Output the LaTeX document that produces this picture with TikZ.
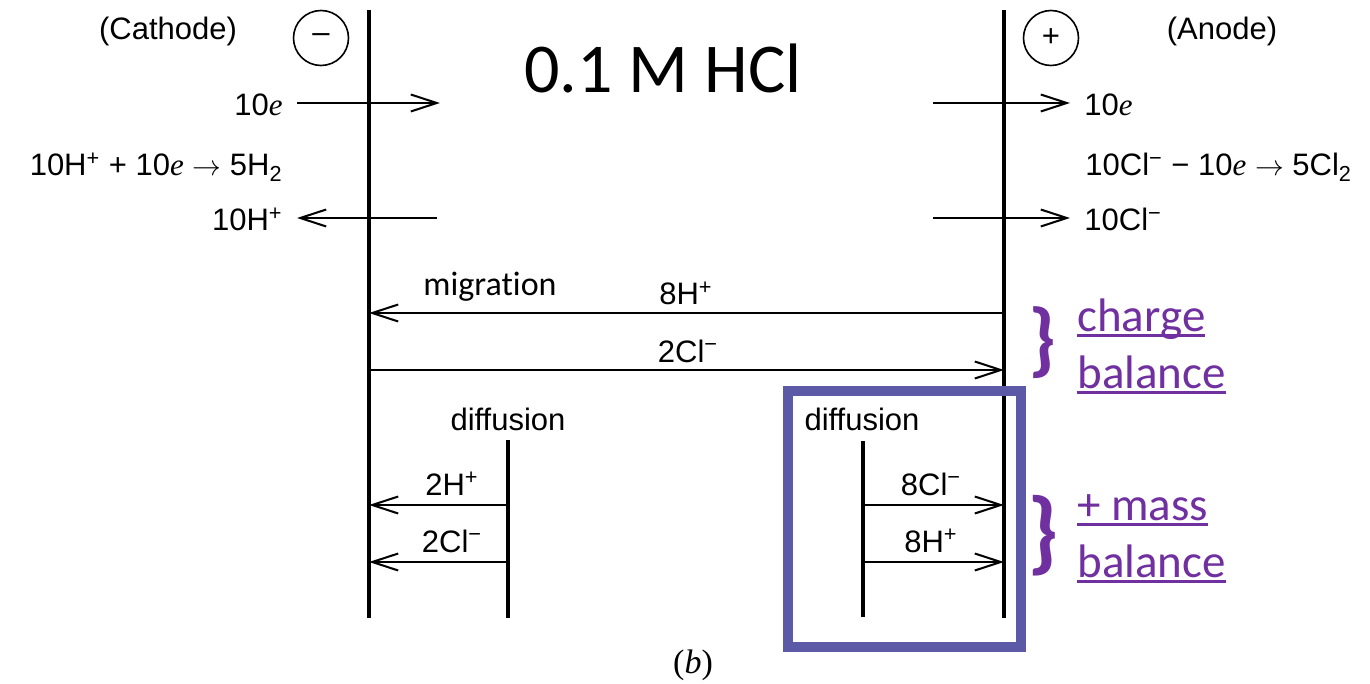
\documentclass[tikz,border=0pt]{standalone}
\usepackage{fontspec}
\setmainfont{Liberation Sans}
\newfontfamily\calibri[Ligatures=NoCommon]{Carlito}
\newfontfamily\timesfont{Liberation Serif}
\usetikzlibrary{arrows.meta}
\definecolor{CellBox}{HTML}{5C59A6}
\definecolor{CellPurple}{HTML}{7030A0}
\newcommand{\ulword}[1]{\setbox0\hbox{#1}\rlap{\rule[-0.13em]{\wd0}{0.065em}}\box0}
\newcommand{\elec}{{\timesfont\itshape e}}

\begin{document}
\begin{tikzpicture}[x=0.5pt,y=-0.5pt,
    electrode/.style={line width=2pt},
    wall/.style={line width=1.7pt},
    flow/.style={line width=1pt,-{Straight Barb[length=13pt,width=8.5pt]}},
    ion/.style={font=\fontsize{15.5}{18}\selectfont,inner sep=0pt},
    ionL/.style={ion,anchor=base east,inner xsep=7pt},
    ionR/.style={ion,anchor=base west,inner xsep=7pt},
    sign/.style={circle,draw,line width=0.8pt,minimum size=27.5pt,inner sep=0pt,
      font=\fontsize{15.5}{18}\selectfont},
    note/.style={font=\calibri\fontsize{17}{20}\selectfont,inner sep=0pt,anchor=base},
    balance/.style={font=\calibri\fontsize{23.5}{28.5}\selectfont,text=CellPurple,
      inner sep=0pt,anchor=base west,align=left},
    brace/.style={font=\calibri\bfseries\fontsize{#1}{#1}\selectfont,text=CellPurple,inner sep=0pt},
    hibox/.style={draw=CellBox,line width=5.25pt}]
  \useasboundingbox (0,0) rectangle (1370,684);

  \coordinate (catT) at (369,10);
  \coordinate (catB) at (369,618);
  \coordinate (anT) at (1004,10);
  \coordinate (anB) at (1004,618);
  \coordinate (dfLT) at (508,440);
  \coordinate (dfLB) at (508,618);
  \coordinate (dfRT) at (863,441);
  \coordinate (dfRB) at (863,617);
  \draw[electrode] (catT) -- (catB);
  \draw[electrode] (anT) -- (anB);
  \draw[wall] (dfLT) -- (dfLB);
  \draw[wall] (dfRT) -- (dfRB);

  \node[sign] (minus) at (321,38) {–};
  \node[sign] (plus) at (1051,38) {+};
  \node[ion,anchor=base] (cath) at (168,40) {(Cathode)};
  \node[ion,anchor=base] (anod) at (1222,40) {(Anode)};
  \node[font=\calibri\fontsize{35}{40}\selectfont,inner sep=0pt,anchor=base] (hcl) at (663,93) {0.1 M HCl};

  % electrode reactions
  \coordinate (eTipL) at (440,103);
  \coordinate (eTailR) at (933,103);
  \coordinate (hTailL) at (437,218);
  \coordinate (clTailR) at (933,218);
  \node[ionL] (eL) at (297,116) {10\elec};
  \node[ionR] (eR) at (1070,116) {10\elec};
  \node[ion,anchor=base east] (reacL) at (283,176) {10H\textsuperscript{+} + 10\elec\ $\rightarrow$ 5H\textsubscript{2}};
  \node[ion,anchor=base west] (reacR) at (1085,176) {10Cl\textsuperscript{−} − 10\elec\ $\rightarrow$ 5Cl\textsubscript{2}};
  \node[ionL] (hL) at (297,231) {10H\textsuperscript{+}};
  \node[ionR] (clR) at (1070,231) {10Cl\textsuperscript{−}};
  \draw[flow] (eL.east |- eTipL) -- (eTipL);
  \draw[flow] (eTailR) -- (eR.west |- eTailR);
  \draw[flow] (hTailL) -- (hL.east |- hTailL);
  \draw[flow] (clTailR) -- (clR.west |- clTailR);

  % migration
  \coordinate (migH) at (0,313);
  \coordinate (migCl) at (0,370);
  \node[note] (mig) at (490,295) {migration};
  \node[ion,anchor=base] (migHlbl) at (686,305) {8H\textsuperscript{+}};
  \node[ion,anchor=base] (migCllbl) at (688,362) {2Cl\textsuperscript{−}};
  \draw[flow] (anT |- migH) -- (catT |- migH);
  \draw[flow] (catT |- migCl) -- (anT |- migCl);

  % diffusion
  \coordinate (difA) at (0,505);
  \coordinate (difB) at (0,562);
  \node[ion,anchor=base] (difL) at (508,430) {diffusion};
  \node[ion,anchor=base] (difR) at (862,430) {diffusion};
  \node[ion,anchor=base] (dHlbl) at (452,495) {2H\textsuperscript{+}};
  \node[ion,anchor=base] (dCllbl) at (452,552) {2Cl\textsuperscript{−}};
  \node[ion,anchor=base] (dClRlbl) at (931,495) {8Cl\textsuperscript{−}};
  \node[ion,anchor=base] (dHRlbl) at (931,552) {8H\textsuperscript{+}};
  \draw[flow] (dfLT |- difA) -- (catT |- difA);
  \draw[flow] (dfLT |- difB) -- (catT |- difB);
  \draw[flow] (dfRT |- difA) -- (anT |- difA);
  \draw[flow] (dfRT |- difB) -- (anT |- difB);

  \draw[hibox] (788,391) rectangle (1021,647);

  \node[brace=41] (chgBrace) at (1043,343) {\}};
  \node[brace=46] (massBrace) at (1043,536) {\}};
  \node[balance] (chg) at (1077,388) {\ulword{charge}\\\ulword{balance}};
  \node[balance] (mass) at (1077,577) {\ulword{+ mass}\\\ulword{balance}};

  \node[font=\timesfont\fontsize{17}{20}\selectfont,inner sep=0pt,anchor=base] (lblb) at (693,673) {(\textit{b})};
\end{tikzpicture}
\end{document}
